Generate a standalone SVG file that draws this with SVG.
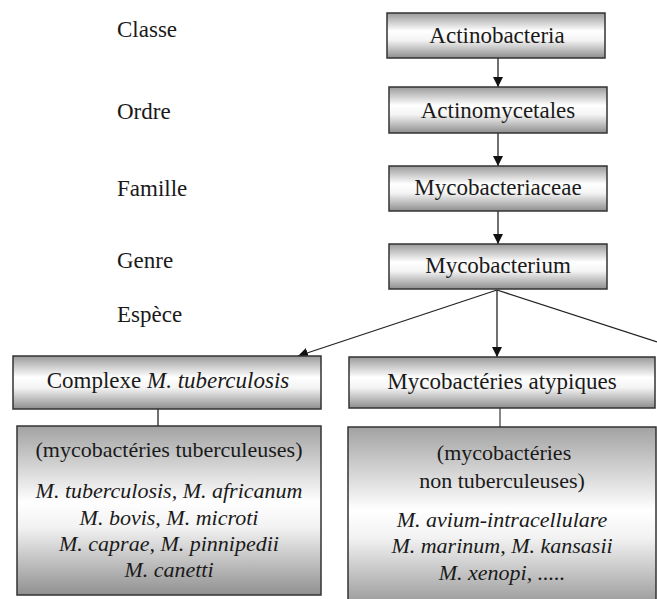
<svg xmlns="http://www.w3.org/2000/svg" width="657" height="599" viewBox="0 0 657 599">
<defs>
<linearGradient id="g" x1="0" y1="0" x2="0" y2="1">
<stop offset="0" stop-color="#9a9a9a"/>
<stop offset="0.4" stop-color="#ffffff"/>
<stop offset="0.6" stop-color="#f4f4f4"/>
<stop offset="1" stop-color="#8e8e8e"/>
</linearGradient>
<linearGradient id="g2" x1="0" y1="0" x2="0" y2="1">
<stop offset="0" stop-color="#a2a2a2"/>
<stop offset="0.45" stop-color="#ffffff"/>
<stop offset="0.6" stop-color="#f2f2f2"/>
<stop offset="1" stop-color="#909090"/>
</linearGradient>
<marker id="ah" viewBox="0 0 10 10" refX="10" refY="5" markerWidth="10" markerHeight="10" markerUnits="userSpaceOnUse" orient="auto">
<path d="M0,0 L10,5 L0,10 Z" fill="#111"/>
</marker>
</defs>
<style>
.box{fill:url(#g);stroke:#333;stroke-width:1.5}
.box2{fill:url(#g2);stroke:#333;stroke-width:1.5}
.t{font-size:23px;text-anchor:middle}
.lab{font-size:23px}
.s{font-size:22px;text-anchor:middle}
.i{font-style:italic}
.c{stroke:#222;stroke-width:1.3;fill:none}
.ca{stroke:#222;stroke-width:1.3;fill:none;marker-end:url(#ah)}
</style>
<rect width="657" height="599" fill="#fff"/>
<g font-family="Liberation Serif, DejaVu Serif, serif" fill="#1a1a1a">
<g id="labels">
<text class="lab" x="117" y="37">Classe</text>
<text class="lab" x="117" y="119">Ordre</text>
<text class="lab" x="117" y="196">Famille</text>
<text class="lab" x="117" y="268">Genre</text>
<text class="lab" x="117" y="322">Espèce</text>
</g>
<g id="connectors">
<line class="ca" x1="498" y1="58" x2="498" y2="87"/>
<line class="ca" x1="498" y1="133" x2="498" y2="166"/>
<line class="ca" x1="498" y1="211" x2="498" y2="244"/>
<line class="ca" x1="497" y1="290" x2="298" y2="356"/>
<line class="ca" x1="497" y1="290" x2="497" y2="357"/>
<line class="c" x1="497" y1="290" x2="657" y2="342"/>
<line class="c" x1="158" y1="409" x2="158" y2="426"/>
<line x1="500" y1="408" x2="500" y2="427" stroke="#888" stroke-width="2"/>
</g>
<g id="n-actinobacteria">
<rect class="box" x="387" y="13" width="218" height="45"/>
<text class="t" x="497" y="43">Actinobacteria</text>
</g>
<g id="n-actinomycetales">
<rect class="box" x="389" y="87" width="218" height="46"/>
<text class="t" x="498" y="118">Actinomycetales</text>
</g>
<g id="n-mycobacteriaceae">
<rect class="box" x="389" y="166" width="218" height="45"/>
<text class="t" x="498" y="195">Mycobacteriaceae</text>
</g>
<g id="n-mycobacterium">
<rect class="box" x="389" y="244" width="218" height="45"/>
<text class="t" x="498" y="273">Mycobacterium</text>
</g>
<g id="n-complexe">
<rect class="box" x="13" y="356" width="308" height="53"/>
<text class="t" x="168" y="388">Complexe <tspan class="i">M. tuberculosis</tspan></text>
</g>
<g id="n-atypiques">
<rect class="box" x="349" y="357" width="306" height="51"/>
<text class="t" x="502" y="389">Mycobactéries atypiques</text>
</g>
<g id="n-tuberculeuses">
<rect class="box2" x="17" y="426" width="304" height="169"/>
<text class="s" x="169" y="457">(mycobactéries tuberculeuses)</text>
<text class="s i" x="169" y="498">M. tuberculosis, M. africanum</text>
<text class="s i" x="169" y="525">M. bovis, M. microti</text>
<text class="s i" x="169" y="551">M. caprae, M. pinnipedii</text>
<text class="s i" x="169" y="577">M. canetti</text>
</g>
<g id="n-non-tuberculeuses">
<rect class="box2" x="348" y="427" width="308" height="185"/>
<text class="s" x="504" y="460">(mycobactéries</text>
<text class="s" x="502" y="488">non tuberculeuses)</text>
<text class="s i" x="502" y="527">M. avium-intracellulare</text>
<text class="s i" x="502" y="553">M. marinum, M. kansasii</text>
<text class="s i" x="502" y="580">M. xenopi, .....</text>
</g>
</g>
</svg>
